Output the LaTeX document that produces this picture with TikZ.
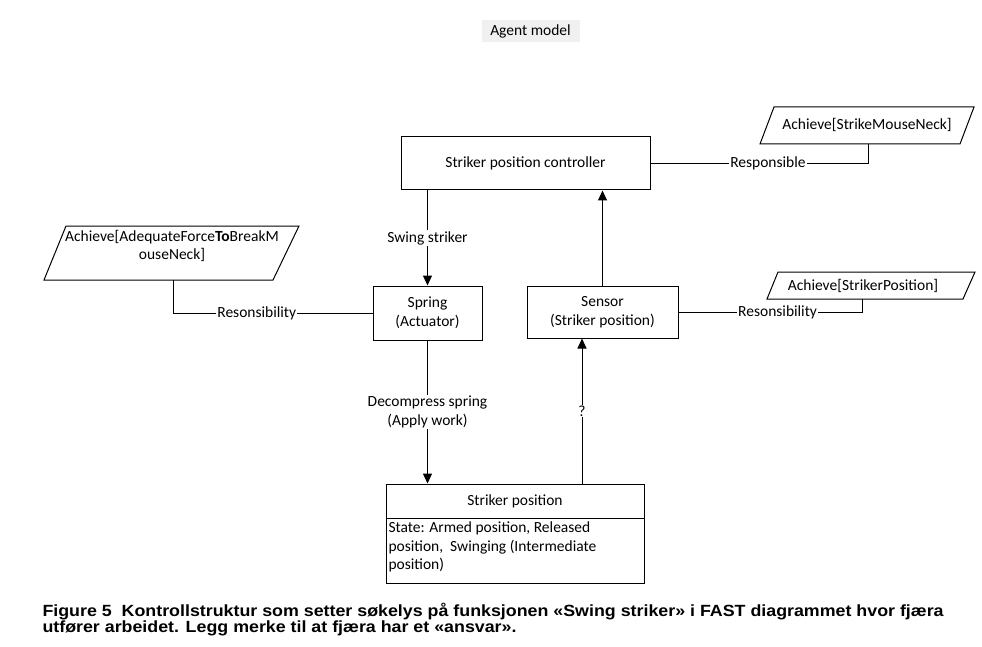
\documentclass[tikz,border=0pt]{standalone}
\usepackage{fontspec}
\setmainfont{Carlito}
\newfontfamily\capfont[FakeStretch=1.1]{Liberation Sans}
\usetikzlibrary{arrows.meta}
\begin{document}
\begin{tikzpicture}[x=1pt,y=-1pt,line width=1pt,
  every node/.style={font=\fontsize{15.5}{19}\selectfont},
  boxnode/.style={draw,inner sep=0pt,align=center},
  lbl/.style={fill=white,inner sep=1pt,align=center},
  arr/.style={-{Triangle[length=10pt,width=9pt]}},
  goal/.style={draw,line join=miter},
  capline/.style={anchor=base west,inner sep=0pt,font=\capfont\bfseries\fontsize{16.2}{16}\selectfont}]
\useasboundingbox (0,0) rectangle (982,647);
% title
\node[fill=black!6,minimum width=98pt,minimum height=22pt,inner sep=0pt] (title) at (530.5,31) {Agent model};
% boxes
\node[boxnode,minimum width=249pt,minimum height=53pt] (ctrl) at (525.5,163.5) {Striker position controller};
\node[boxnode,minimum width=151pt,minimum height=52pt] (sens) at (602.5,312) {Sensor\\(Striker position)};
\node[boxnode,minimum width=109pt,minimum height=54pt] (spring) at (427.5,313) {Spring\\(Actuator)};
\node[draw,inner sep=0pt,minimum width=258pt,minimum height=99pt] (sp) at (515,533.5) {};
\draw (386,518) -- (644,518);
\node (sptitle) at (515,501) {Striker position};
\node[anchor=north west,inner sep=0pt,align=left,font=\fontsize{15.5}{18.5}\selectfont] (spstate) at (388,521.5) {State: Armed position, Released\\position,\ \ Swinging (Intermediate\\position)};
% goals
\draw[goal] (774,107) -- (974,107) -- (960,144) -- (760,144) -- cycle;
\node (g1) at (867,125) {Achieve[StrikeMouseNeck]};
\coordinate (g1b) at (868,144);
\draw[goal] (778,272) -- (975,272) -- (963,299) -- (767,299) -- cycle;
\node (g2) at (863,286) {Achieve[StrikerPosition]};
\coordinate (g2b) at (862,299);
\draw[goal] (66,226) -- (299,226) -- (273,280) -- (44,280) -- cycle;
\node[align=center,font=\fontsize{15.5}{18}\selectfont] (g3) at (172,246) {Achieve[AdequateForce\textbf{To}BreakM\\ouseNeck]};
\coordinate (g3b) at (173,280);
% connectors
\draw[arr] (sens.north) -- (sens.north |- ctrl.south);
\draw[arr] (ctrl.south -| spring) -- node[lbl]{Swing striker} (spring.north);
\draw[arr] (spring.south) -- node[lbl]{Decompress spring\\(Apply work)} (spring.south |- sp.north);
\coordinate (qx) at (582,0);
\draw[arr] (sp.north -| qx) -- node[lbl]{?} (sens.south -| qx);
\draw (ctrl.east) -- node[lbl,pos=0.54]{Responsible} (ctrl.east -| g1b) -- (g1b);
\draw (sens.east) -- node[lbl,pos=0.54]{Resonsibility} (sens.east -| g2b) -- (g2b);
\draw (g3b) |- node[lbl,pos=0.71]{Resonsibility} (spring.west);
% caption
\node[capline] (cap1) at (42,616.3) {Figure 5\ \ Kontrollstruktur som setter søkelys på funksjonen «Swing striker» i FAST diagrammet hvor fjæra};
\node[capline] (cap2) at (42,632.3) {utfører arbeidet. Legg merke til at fjæra har et «ansvar».};
\end{tikzpicture}
\end{document}
